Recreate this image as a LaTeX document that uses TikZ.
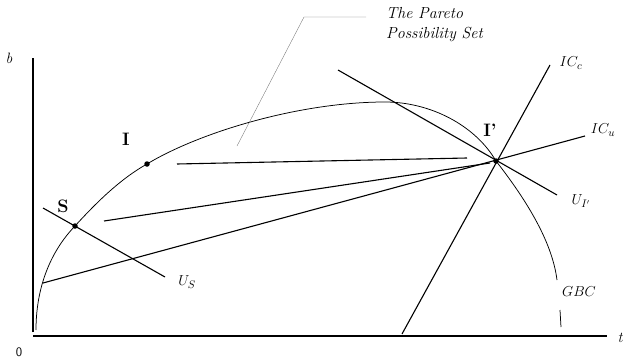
\documentclass[tikz,border=0pt]{standalone}
\usepackage{tikz}
\usetikzlibrary{positioning}
\tikzset{
  axisline/.style={line width=1.4pt},
  curveline/.style={line width=0.75pt},
  tradeline/.style={line width=1.1pt},
  leader/.style={line width=0.35pt,black!55},
  dotpt/.style={circle,fill,inner sep=0pt,minimum size=5.5pt},
  ptlabel/.style={font=\fontsize{18}{18}\selectfont\bfseries},
  curvelabel/.style={font=\fontsize{15}{15}\selectfont\itshape},
  axislabel/.style={font=\fontsize{15}{15}\selectfont\itshape}
}

\begin{document}
\begin{tikzpicture}[x=1pt,y=1pt]
    \useasboundingbox (0,0) rectangle (625,360);

    % Axes
    \coordinate (O) at (33,24);
    \coordinate (btop) at (33,302);
    \coordinate (tend) at (607,24);
    \draw[axisline] (33,28) -- (btop);
    \draw[axisline] (O) -- (tend);
    \node[axislabel] (blab) at (9,302) {b};
    \node[axislabel] (tlab) at (620,22) {t};
    \node[axislabel,font=\fontsize{13}{13}\sffamily] (olab) at (19,8) {0};

    % Points
    \node[dotpt] (S) at (75,134) {};
    \node[dotpt] (I) at (147,196) {};
    \node[dotpt] (Ip) at (496,199) {};
    \node[ptlabel] (Slab) at (63,154) {S};
    \node[ptlabel] (Ilab) at (126,221) {I};
    \node[ptlabel] (Iplab) at (490,230) {I'};

    % GBC curve
    \coordinate (gtop) at (385,258);
    \draw[curveline] (36,30) .. controls (36,72) and (50,108) .. (S.center)
      .. controls (95,156) and (120,181) .. (I.center)
      .. controls (200,228) and (300,258) .. (gtop)
      .. controls (430,258) and (475,235) .. (Ip.center)
      .. controls (524,163) and (552,120) .. (557,80);
    \draw[curveline] (560,50) -- (561,33);
    \node[curvelabel] (gbc) at (579,68) {$GBC$};

    % Utility lines
    \coordinate (us1) at (43,152);
    \coordinate (us2) at (165,83);
    \draw[tradeline] (us1) -- (us2);
    \node[curvelabel] (uslab) at (187,78) {$U_S$};
    \coordinate (ui1) at (338,290);
    \coordinate (ui2) at (557,165);
    \draw[tradeline] (ui1) -- (ui2);
    \node[curvelabel] (uilab) at (581,159) {$U_{I'}$};

    % Indifference curves
    \coordinate (icc1) at (402,26);
    \coordinate (icc2) at (550,295);
    \draw[tradeline] (icc1) -- (icc2);
    \node[curvelabel] (icclab) at (571,297) {$IC_c$};
    \coordinate (icu1) at (43,77);
    \coordinate (icu2) at (585,224);
    \draw[tradeline] (icu1) -- (icu2);
    \node[curvelabel] (iculab) at (603,230) {$IC_u$};

    % Pareto set lines
    \coordinate (p1a) at (177,196);
    \coordinate (p1b) at (467,202);
    \draw[tradeline] (p1a) -- (p1b);
    \coordinate (p2a) at (104,139);
    \coordinate (p2b) at (490,197);
    \draw[tradeline] (p2a) -- (p2b);

    % Label of the set
    \node[align=left,anchor=north west,inner sep=0pt,
          font=\fontsize{16}{20}\selectfont\itshape] (pareto) at (386,353)
          {The Pareto\\Possibility Set};
    \coordinate (lead0) at (237,214);
    \coordinate (lead1) at (304,343);
    \draw[leader] (lead0) -- (lead1) -- (366,343);
\end{tikzpicture}
\end{document}
